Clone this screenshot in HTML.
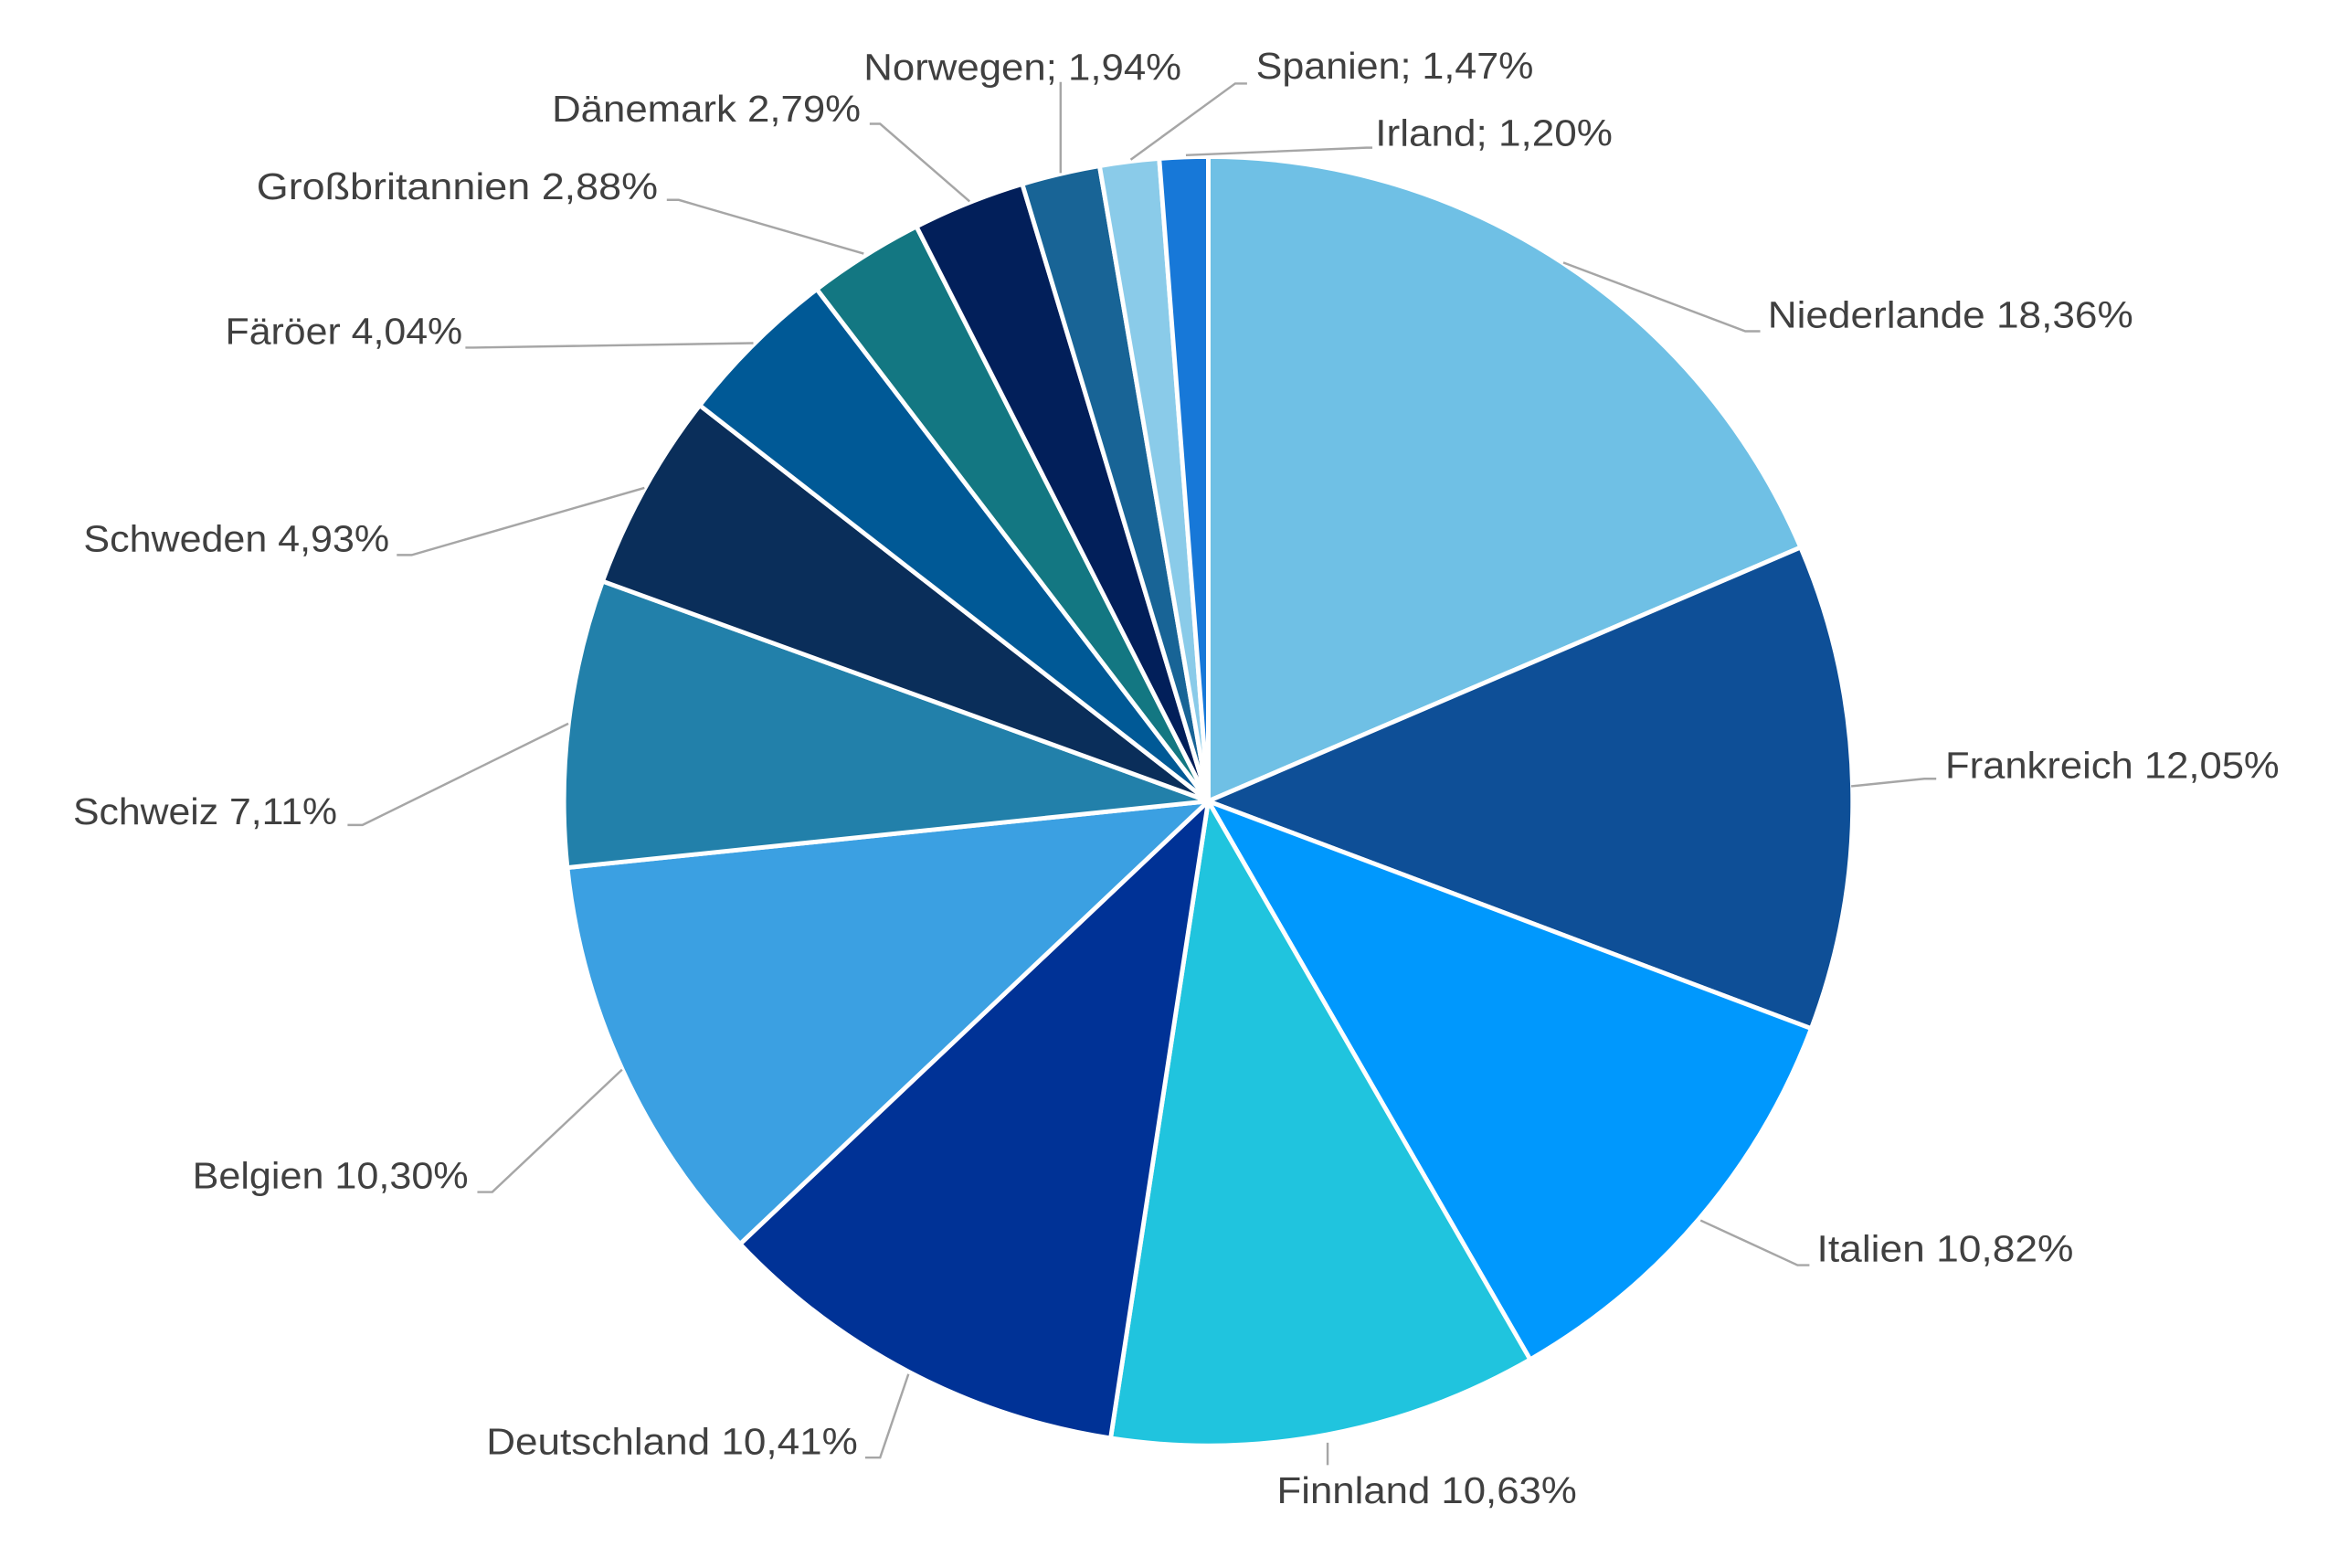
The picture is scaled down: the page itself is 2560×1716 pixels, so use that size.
<!DOCTYPE html>
<html><head><meta charset="utf-8">
<style>
html,body{margin:0;padding:0;background:#fff;}
svg{display:block;}
text{font-family:"Liberation Sans",sans-serif;font-size:25px;fill:#404040;}
</style></head>
<body>
<svg id="s" width="2560" height="1716" viewBox="0 0 1568 1051" preserveAspectRatio="none" xmlns="http://www.w3.org/2000/svg">
<g id="pie"></g>
<g stroke="#a6a6a6" stroke-width="1.5" fill="none">
<polyline points="1048,176 1170,222 1180,222"/>
<polyline points="1241,527 1290,522 1298,522"/>
<polyline points="1140,818 1205,848 1213,848"/>
<polyline points="890,967 890,982"/>
<polyline points="609,921 590,977 580,977"/>
<polyline points="417,717 330,799 320,799"/>
<polyline points="381,485 243,553 233,553"/>
<polyline points="432,327 276,372 266,372"/>
<polyline points="505,230 317,233 312,233"/>
<polyline points="579,170 455,134 447,134"/>
<polyline points="650,135 590,83 583,83"/>
<polyline points="711,116 711,55"/>
<polyline points="758,107 828,56 836,56"/>
<polyline points="795,104 916,99 920,99"/>
</g>
<g dominant-baseline="middle">
<text x="1185" y="213" textLength="245" lengthAdjust="spacingAndGlyphs">Niederlande 18,36%</text>
<text x="1304" y="515" textLength="224" lengthAdjust="spacingAndGlyphs">Frankreich 12,05%</text>
<text x="1218" y="839" textLength="172" lengthAdjust="spacingAndGlyphs">Italien 10,82%</text>
<text x="856" y="1001" textLength="201" lengthAdjust="spacingAndGlyphs">Finnland 10,63%</text>
<text x="326" y="968" textLength="249" lengthAdjust="spacingAndGlyphs">Deutschland 10,41%</text>
<text x="129" y="790" textLength="185" lengthAdjust="spacingAndGlyphs">Belgien 10,30%</text>
<text x="49" y="546" textLength="177" lengthAdjust="spacingAndGlyphs">Schweiz 7,11%</text>
<text x="56" y="363" textLength="205" lengthAdjust="spacingAndGlyphs">Schweden 4,93%</text>
<text x="151" y="224" textLength="159" lengthAdjust="spacingAndGlyphs">Färöer 4,04%</text>
<text x="172" y="127" textLength="269" lengthAdjust="spacingAndGlyphs">Großbritannien 2,88%</text>
<text x="370" y="75" textLength="207" lengthAdjust="spacingAndGlyphs">Dänemark 2,79%</text>
<text x="579" y="47" textLength="213" lengthAdjust="spacingAndGlyphs">Norwegen; 1,94%</text>
<text x="842" y="46" textLength="186" lengthAdjust="spacingAndGlyphs">Spanien; 1,47%</text>
<text x="922" y="91" textLength="159" lengthAdjust="spacingAndGlyphs">Irland; 1,20%</text>
</g>
</svg>
<script>
var d=[[18.36,"#6fc0e5"],[12.05,"#0e4f97"],[10.82,"#0098fd"],[10.63,"#20c4de"],[10.41,"#003296"],[10.30,"#3ba0e2"],[7.11,"#2280aa"],[4.93,"#0a2e5a"],[4.04,"#005996"],[2.88,"#137782"],[2.79,"#021f5a"],[1.94,"#186496"],[1.47,"#8acbe9"],[1.20,"#1778d8"]];
var tot=0;d.forEach(function(e){tot+=e[0];});
var cx=810,cy=537,r=432,a=0,g=document.getElementById("pie"),h="";
d.forEach(function(e){
 var a2=a+e[0]/tot*2*Math.PI;
 var x1=cx+r*Math.sin(a),y1=cy-r*Math.cos(a),x2=cx+r*Math.sin(a2),y2=cy-r*Math.cos(a2);
 var lg=(a2-a)>Math.PI?1:0;
 h+='<path d="M'+cx+','+cy+' L'+x1.toFixed(2)+','+y1.toFixed(2)+' A'+r+','+r+' 0 '+lg+' 1 '+x2.toFixed(2)+','+y2.toFixed(2)+' Z" fill="'+e[1]+'" stroke="#fff" stroke-width="3" stroke-linejoin="round"/>';
 a=a2;
});
g.innerHTML=h;
</script>
</body></html>
